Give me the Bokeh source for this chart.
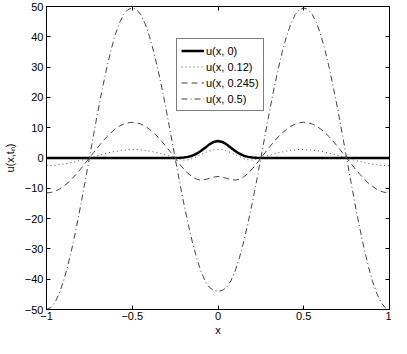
import numpy as np
from bokeh.plotting import figure
from bokeh.models import Range1d, LinearAxis, CustomJSTickFormatter, FixedTicker, Legend, LegendItem
from bokeh.embed import file_html
from bokeh.resources import INLINE

x = np.linspace(-1, 1, 81)

u_t0 = [0.0]*30 + [0.02, 0.06, 0.16, 0.37, 0.76, 1.4, 2.3, 3.4, 4.5, 5.3, 5.6,
                   5.3, 4.5, 3.4, 2.3, 1.4, 0.76, 0.37, 0.16, 0.06, 0.02] + [0.0]*30

u_t012 = [-2.5, -2.5, -2.4, -2.2, -2.0, -1.8, -1.5, -1.1, -0.8, -0.4, 0.0,
          0.4, 0.8, 1.2, 1.6, 1.9, 2.2, 2.4, 2.6, 2.7, 2.8,
          2.8, 2.7, 2.5, 2.3, 2.0, 1.7, 1.3, 0.9, 0.5, 0.1,
          -0.4, -0.7, -0.6, -0.2, 0.4, 1.1, 1.8, 2.3, 2.7, 2.8,
          2.7, 2.3, 1.8, 1.1, 0.4, -0.2, -0.6, -0.7, -0.4, 0.1,
          0.5, 0.9, 1.3, 1.7, 2.0, 2.3, 2.5, 2.7, 2.8, 2.8,
          2.7, 2.6, 2.4, 2.2, 1.9, 1.6, 1.2, 0.8, 0.4, 0.0,
          -0.4, -0.8, -1.1, -1.5, -1.8, -2.0, -2.2, -2.4, -2.5, -2.5]

u_t0245 = [-11.5, -11.4, -11.0, -10.3, -9.3, -8.2, -6.8, -5.2, -3.6, -1.8, 0.0,
           1.8, 3.6, 5.3, 6.9, 8.3, 9.5, 10.5, 11.2, 11.6, 11.8,
           11.6, 11.2, 10.5, 9.5, 8.3, 6.9, 5.3, 3.6, 1.8, 0.0,
           -1.9, -3.6, -5.1, -6.2, -7.0, -7.3, -7.1, -6.7, -6.3, -6.1,
           -6.3, -6.7, -7.1, -7.3, -7.0, -6.2, -5.1, -3.6, -1.9, 0.0,
           1.8, 3.6, 5.3, 6.9, 8.3, 9.5, 10.5, 11.2, 11.6, 11.8,
           11.6, 11.2, 10.5, 9.5, 8.3, 6.9, 5.3, 3.6, 1.8, 0.0,
           -1.8, -3.6, -5.2, -6.8, -8.2, -9.3, -10.3, -11.0, -11.4, -11.5]

u_t05 = [-50.0, -49.4, -47.6, -44.6, -40.5, -35.4, -29.4, -22.7, -15.5, -7.8, 0.0,
         7.8, 15.5, 22.7, 29.4, 35.4, 40.5, 44.5, 47.4, 49.0, 49.5,
         49.0, 47.3, 44.3, 40.2, 35.1, 29.1, 22.5, 15.3, 7.7, 0.0,
         -7.6, -14.8, -21.5, -27.6, -32.9, -37.3, -40.6, -42.7, -43.7, -44.0,
         -43.7, -42.7, -40.6, -37.3, -32.9, -27.6, -21.5, -14.8, -7.6, 0.0,
         7.7, 15.3, 22.5, 29.1, 35.1, 40.2, 44.3, 47.3, 49.0, 49.5,
         49.0, 47.4, 44.5, 40.5, 35.4, 29.4, 22.7, 15.5, 7.8, 0.0,
         -7.8, -15.5, -22.7, -29.4, -35.4, -40.5, -44.6, -47.6, -49.4, -50.0]

labels = ["u(x, 0)", "u(x, 0.12)", "u(x, 0.245)", "u(x, 0.5)"]
x_ticks = [-1, -0.5, 0, 0.5, 1]
y_ticks = [-50, -40, -30, -20, -10, 0, 10, 20, 30, 40, 50]

FONT = "Liberation Sans"

p = figure(width=391, height=338, output_backend="svg", toolbar_location=None,
           x_range=Range1d(-1, 1), y_range=Range1d(-50, 50),
           min_border_top=6, min_border_right=2, min_border_bottom=0, min_border_left=4)
p.background_fill_color = "white"
p.border_fill_color = "white"
p.outline_line_color = "black"
p.outline_line_width = 1
p.xgrid.visible = False
p.ygrid.visible = False

fmt = CustomJSTickFormatter(code="""
var s = (Math.abs(tick) < 1e-9) ? "0" : String(Math.abs(tick));
return tick < -1e-9 ? "\\u2212" + s : s;
""")
blank = CustomJSTickFormatter(code="return '';")

for ax, ticks in ((p.xaxis[0], x_ticks), (p.yaxis[0], y_ticks)):
    ax.ticker = FixedTicker(ticks=ticks)
    ax.formatter = fmt
    ax.major_tick_in = 4
    ax.major_tick_out = 0
    ax.minor_tick_in = 0
    ax.minor_tick_out = 0
    ax.axis_line_color = "black"
    ax.major_tick_line_color = "black"
    ax.major_label_text_font = FONT
    ax.major_label_text_font_size = "11px"
    ax.major_label_text_color = "black"
    ax.axis_label_text_font = FONT
    ax.axis_label_text_font_size = "11px"
    ax.axis_label_text_font_style = "normal"
    ax.axis_label_text_color = "black"

p.xaxis[0].axis_label = "x"
p.xaxis[0].major_label_standoff = 2
p.xaxis[0].axis_label_standoff = 1
p.yaxis[0].axis_label = "u(x,t\u2099)"
p.yaxis[0].major_label_standoff = 3
p.yaxis[0].axis_label_standoff = 6

right = LinearAxis(ticker=FixedTicker(ticks=y_ticks), formatter=blank,
                   major_tick_in=4, major_tick_out=0, minor_tick_in=0, minor_tick_out=0,
                   major_label_standoff=0, axis_line_color="black")
top = LinearAxis(ticker=FixedTicker(ticks=x_ticks), formatter=blank,
                 major_tick_in=4, major_tick_out=0, minor_tick_in=0, minor_tick_out=0,
                 major_label_standoff=0, axis_line_color="black")
p.add_layout(right, "right")
p.add_layout(top, "above")

r0 = p.line(x, u_t0, line_color="black", line_width=2.5)
r1 = p.line(x, u_t012, line_color="#555555", line_width=1, line_dash="1 3")
r2 = p.line(x, u_t0245, line_color="#444444", line_width=1, line_dash="6 4")
r3 = p.line(x, u_t05, line_color="#444444", line_width=1, line_dash="6 3 1 3")

legend = Legend(items=[LegendItem(label=labels[i], renderers=[r]) for i, r in enumerate([r0, r1, r2, r3])],
                location=(130, 198))
legend.label_text_font = FONT
legend.label_text_font_size = "11px"
legend.label_text_color = "black"
legend.glyph_width = 23
legend.glyph_height = 15
legend.label_height = 15
legend.label_standoff = 2
legend.spacing = 1
legend.padding = 4
legend.margin = 0
legend.border_line_color = "black"
legend.border_line_width = 1
legend.background_fill_color = "white"
legend.background_fill_alpha = 1
p.add_layout(legend, "center")

open("out.html", "w").write(file_html(p, INLINE))
